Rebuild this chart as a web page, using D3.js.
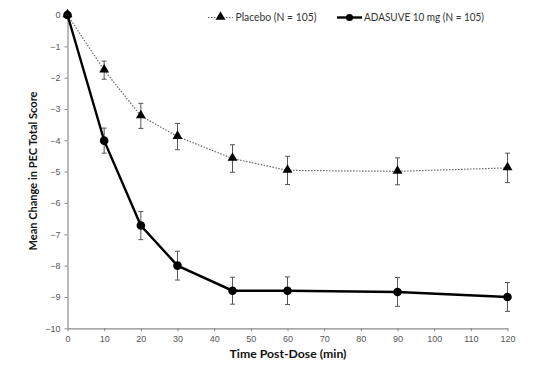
<!DOCTYPE html>
<html><head><meta charset="utf-8">
<script src="https://cdn.jsdelivr.net/npm/d3@7"></script>
<style>body{margin:0;background:#fff}svg{display:block}</style>
</head><body>
<svg id="c" width="549" height="378"></svg>
<script>
const times = [0, 10, 20, 30, 45, 60, 90, 120];
const placeboMean = [0, -1.76, -3.22, -3.88, -4.58, -4.96, -4.99, -4.88];
const placeboErr  = [0, 0.29, 0.40, 0.42, 0.44, 0.45, 0.43, 0.47];
const adasuveMean = [0, -4.01, -6.72, -8.00, -8.80, -8.80, -8.84, -9.00];
const adasuveErr  = [0, 0.40, 0.45, 0.46, 0.43, 0.44, 0.46, 0.46];
const xTicks = [0,10,20,30,40,50,60,70,80,90,100,110,120];
const yTicks = [0,-1,-2,-3,-4,-5,-6,-7,-8,-9,-10];
const seriesNames = ["Placebo (N = 105)", "ADASUVE 10 mg (N = 105)"];
const xTitle = "Time Post-Dose (min)";
const yTitle = "Mean Change in PEC Total Score";

const svg = d3.select("#c");
const x = d3.scaleLinear().domain([0,120]).range([67.5,507.5]);
const y = d3.scaleLinear().domain([-10,0]).range([328.3,15]);
const axisCol = "#8a8a8a", tickTxt = "#555";

const gx = svg.append("g").attr("transform","translate(0,"+y(-10)+")")
  .call(d3.axisBottom(x).tickValues(xTicks).tickSize(3).tickSizeOuter(0).tickPadding(3));
const gy = svg.append("g").attr("transform","translate("+x(0)+",0)")
  .call(d3.axisLeft(y).tickValues(yTicks).tickSize(3).tickSizeOuter(0).tickPadding(4));
[gx,gy].forEach(g=>{
  g.select(".domain").attr("stroke",axisCol).attr("stroke-width",1.2);
  g.selectAll(".tick line").attr("stroke",axisCol);
  g.selectAll(".tick text").attr("fill",tickTxt).style("font-family","'Liberation Sans', Arial, sans-serif").style("font-size","9px");
});
gx.selectAll(".tick text").attr("dy","0.9em");

svg.append("text").attr("x",288).attr("y",358)
  .attr("text-anchor","middle").style("font-family","Lato, sans-serif").style("font-weight","bold")
  .style("font-size","12px").attr("fill","#111").attr("textLength",117).attr("lengthAdjust","spacingAndGlyphs").text(xTitle);
svg.append("text").attr("transform","translate(37,171) rotate(-90)")
  .attr("text-anchor","middle").style("font-family","Lato, sans-serif").style("font-weight","bold")
  .style("font-size","12px").attr("fill","#111").attr("textLength",159).attr("lengthAdjust","spacingAndGlyphs").text(yTitle);

const pData = times.map((t,i)=>({t, m:placeboMean[i], e:placeboErr[i]}));
const aData = times.map((t,i)=>({t, m:adasuveMean[i], e:adasuveErr[i]}));
const line = d3.line().x(d=>x(d.t)).y(d=>y(d.m));

function errBars(data){
  const g = svg.append("g").attr("stroke","#555").attr("stroke-width",1);
  data.filter(d=>d.e>0).forEach(d=>{
    g.append("line").attr("x1",x(d.t)).attr("x2",x(d.t)).attr("y1",y(d.m+d.e)).attr("y2",y(d.m-d.e));
    g.append("line").attr("x1",x(d.t)-2.5).attr("x2",x(d.t)+2.5).attr("y1",y(d.m+d.e)).attr("y2",y(d.m+d.e));
    g.append("line").attr("x1",x(d.t)-2.5).attr("x2",x(d.t)+2.5).attr("y1",y(d.m-d.e)).attr("y2",y(d.m-d.e));
  });
}
errBars(pData);
errBars(aData);

const tri = d3.symbol().type(d3.symbolTriangle).size(42);
svg.append("path").datum(pData).attr("d",line).attr("fill","none")
  .attr("stroke","#666").attr("stroke-width",1.2).attr("stroke-dasharray","1.5,1.5");
svg.append("g").selectAll("path").data(pData).join("path")
  .attr("d",tri).attr("transform",d=>"translate("+x(d.t)+","+(y(d.m)-0.5)+")").attr("fill","#000");

svg.append("path").datum(aData).attr("d",line).attr("fill","none")
  .attr("stroke","#000").attr("stroke-width",2.4);
svg.append("g").selectAll("circle").data(aData).join("circle")
  .attr("cx",d=>x(d.t)).attr("cy",d=>y(d.m)).attr("r",4.3).attr("fill","#000");

// legend
const lg = svg.append("g");
lg.append("line").attr("x1",208).attr("x2",233).attr("y1",17.5).attr("y2",17.5)
  .attr("stroke","#666").attr("stroke-width",1.2).attr("stroke-dasharray","1.5,1.5");
lg.append("path").attr("d",tri).attr("transform","translate(220.5,17)").attr("fill","#000");
lg.append("text").attr("x",235.5).attr("y",21.3).style("font-family","Lato, sans-serif").style("font-size","10.5px")
  .attr("fill","#333").attr("textLength",81).attr("lengthAdjust","spacingAndGlyphs").text(seriesNames[0]);
lg.append("line").attr("x1",337).attr("x2",362).attr("y1",17.5).attr("y2",17.5)
  .attr("stroke","#000").attr("stroke-width",2.4);
lg.append("circle").attr("cx",349.5).attr("cy",17.5).attr("r",3.6).attr("fill","#000");
lg.append("text").attr("x",364).attr("y",21.3).style("font-family","Lato, sans-serif").style("font-size","10.5px")
  .attr("fill","#333").attr("textLength",120).attr("lengthAdjust","spacingAndGlyphs").text(seriesNames[1]);
</script>
</body></html>
